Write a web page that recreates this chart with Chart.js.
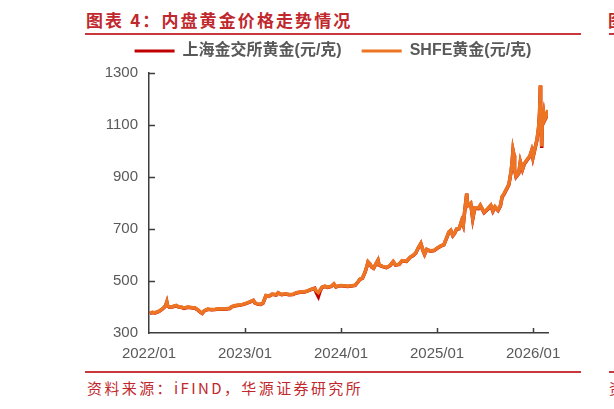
<!DOCTYPE html>
<html>
<head>
<meta charset="utf-8">
<script src="https://cdn.jsdelivr.net/npm/chart.js@4.4.1/dist/chart.umd.min.js"></script>
<style>
  html, body { margin: 0; padding: 0; width: 614px; height: 409px; overflow: hidden; background: #fff; }
  body { position: relative; }
  .ttl { position: absolute; top: 8px; left: 86px; font-family: "Noto Sans CJK SC", sans-serif; font-size: 17px; font-weight: bold; letter-spacing: 2.1px; color: #C0282D; white-space: nowrap; line-height: 24px; }
  .rule { position: absolute; height: 2px; background: #C8383D; }
  .src { position: absolute; top: 378px; left: 87px; font-family: "Noto Sans CJK SC", sans-serif; font-size: 15px; letter-spacing: 2.4px; color: #C0282D; white-space: nowrap; line-height: 20px; }
  #wrap { position: absolute; left: 85px; top: 23px; width: 496px; height: 352px; }
</style>
</head>
<body>
<div class="ttl">图表 4：内盘黄金价格走势情况</div>
<div class="ttl" style="left:608px;">图表 5</div>
<div class="rule" style="left:85px; top:33px; width:496px;"></div>
<div class="rule" style="left:609px; top:33px; width:10px;"></div>
<div class="rule" style="left:85px; top:371px; width:496px;"></div>
<div class="rule" style="left:609px; top:371px; width:10px;"></div>
<div class="src">资料来源：iFIND，华源证券研究所</div>
<div class="src" style="left:609px;">资料</div>
<div id="wrap"><canvas id="c"></canvas></div>
<script>
const seriesNames = ["上海金交所黄金(元/克)", "SHFE黄金(元/克)"];
const dates = [
"2022-01-04","2022-01-14","2022-01-25","2022-02-08","2022-02-18","2022-02-25","2022-03-04","2022-03-08","2022-03-11","2022-03-18",
"2022-03-31","2022-04-13","2022-04-22","2022-05-06","2022-05-13","2022-05-27","2022-06-10","2022-06-24","2022-07-06","2022-07-15",
"2022-07-21","2022-07-29","2022-08-12","2022-08-26","2022-09-09","2022-09-23","2022-10-14","2022-10-28","2022-11-04","2022-11-11",
"2022-11-25","2022-12-09","2022-12-23","2023-01-06","2023-01-19","2023-02-02","2023-02-08","2023-02-17","2023-02-28","2023-03-09",
"2023-03-15","2023-03-20","2023-03-31","2023-04-13","2023-04-28","2023-05-05","2023-05-19","2023-06-02","2023-06-16","2023-06-30",
"2023-07-14","2023-07-28","2023-08-11","2023-08-25","2023-09-08","2023-09-22","2023-09-28","2023-10-06","2023-10-13","2023-10-20",
"2023-10-31","2023-11-10","2023-11-24","2023-12-04","2023-12-12","2023-12-29","2024-01-12","2024-01-26","2024-02-09","2024-02-23",
"2024-03-05","2024-03-12","2024-03-22","2024-04-01","2024-04-08","2024-04-12","2024-04-19","2024-04-26","2024-05-03","2024-05-20",
"2024-05-24","2024-06-07","2024-06-21","2024-07-05","2024-07-17","2024-07-26","2024-08-09","2024-08-20","2024-09-06","2024-09-20",
"2024-09-30","2024-10-11","2024-10-21","2024-10-31","2024-11-08","2024-11-14","2024-11-22","2024-12-06","2024-12-20","2025-01-03",
"2025-01-17","2025-01-27","2025-02-07","2025-02-14","2025-02-21","2025-02-28","2025-03-07","2025-03-14","2025-03-24","2025-03-31",
"2025-04-03","2025-04-09","2025-04-14","2025-04-22","2025-04-25","2025-05-07","2025-05-15","2025-05-23","2025-06-06","2025-06-13",
"2025-06-27","2025-07-11","2025-07-23","2025-07-31","2025-08-08","2025-08-20","2025-08-29","2025-09-05","2025-09-12","2025-09-23",
"2025-09-30","2025-10-09","2025-10-13","2025-10-16","2025-10-20","2025-10-22","2025-10-28","2025-11-07","2025-11-13","2025-11-21",
"2025-11-28","2025-12-05","2025-12-12","2025-12-19","2025-12-26","2025-12-31","2026-01-09","2026-01-16","2026-01-22","2026-01-26",
"2026-01-29","2026-01-30","2026-02-02","2026-02-03","2026-02-05","2026-02-10","2026-02-13","2026-02-18","2026-02-25"
];
const shfe = [
376,380,378,384,392,398,408,420,405,400,
402,406,401,398,396,400,398,396,388,380,
376,386,392,390,391,393,392,394,395,402,
406,408,410,415,420,426,416,412,411,416,
432,444,442,450,447,455,448,451,448,449,
455,458,458,462,468,472,462,455,466,476,
480,476,480,489,478,483,482,480,482,484,
498,507,512,535,558,574,566,554,550,581,
562,556,552,560,575,562,565,578,576,592,
598,608,628,645,618,603,622,616,618,628,
636,640,668,688,695,675,684,700,702,722,
732,715,765,837,790,800,741,782,780,792,
765,778,792,770,786,773,790,825,836,858,
872,925,965,1004,985,930,902,915,960,930,
952,962,972,980,1002,975,1015,1045,1090,1150,
1254,1185,1060,1017,1110,1145,1119,1130,1158
];
const sge = [
375,379,377,383,391,397,407,419,404,399,
401,405,400,398,395,399,397,395,387,379,
375,385,391,389,390,392,391,393,394,401,
405,407,409,414,419,425,415,411,410,415,
431,443,441,449,446,454,447,450,447,448,
454,457,457,461,467,472,456,440,462,475,
479,475,479,488,477,482,481,479,481,483,
497,506,511,534,557,573,565,553,549,580,
561,555,551,559,574,561,564,577,575,591,
597,607,627,644,617,602,621,615,617,627,
635,639,667,687,694,674,683,699,701,721,
731,714,764,836,789,799,738,780,778,790,
763,776,790,768,784,771,788,823,834,856,
870,923,963,1002,983,928,900,913,958,928,
950,960,970,978,1000,973,1013,1043,1088,1148,
1250,1180,1055,1012,1108,1143,1117,1128,1156
];
const yTicks = [300, 500, 700, 900, 1100, 1300];
const xTickLabels = ["2022/01", "2023/01", "2024/01", "2025/01", "2026/01"];

function toX(s) {
  const p = s.split('-').map(Number);
  const dim = new Date(p[0], p[1], 0).getDate();
  return (p[0] - 2022) * 12 + (p[1] - 1) + (p[2] - 1) / dim;
}
const xs = dates.map(toX);
const mk = arr => arr.map((v, i) => ({ x: xs[i], y: v }));

const FONT = '"Liberation Sans", Arial, "Noto Sans CJK SC", sans-serif';
const AXIS = '#3c3c3c';

const innerTicks = {
  id: 'innerTicks',
  afterDraw(chart) {
    const { ctx, chartArea, scales } = chart;
    ctx.save();
    ctx.strokeStyle = AXIS;
    ctx.lineWidth = 1.5;
    scales.y.ticks.forEach(t => {
      if (t.value === scales.y.min) return;
      const py = Math.round(scales.y.getPixelForValue(t.value)) + 0.5;
      ctx.beginPath(); ctx.moveTo(chartArea.left, py); ctx.lineTo(chartArea.left + 6, py); ctx.stroke();
    });
    scales.x.ticks.forEach(t => {
      if (t.value === scales.x.min) return;
      const px = Math.round(scales.x.getPixelForValue(t.value)) + 0.5;
      ctx.beginPath(); ctx.moveTo(px, chartArea.bottom); ctx.lineTo(px, chartArea.bottom - 5); ctx.stroke();
    });
    ctx.restore();
  }
};
const legendHeight = {
  id: 'legendHeight',
  beforeInit(chart) {
    const orig = chart.legend.fit;
    chart.legend.fit = function () { orig.call(this); this.height = 50; };
  }
};

new Chart(document.getElementById('c'), {
  type: 'line',
  data: {
    datasets: [
      { label: seriesNames[0], data: mk(sge), borderColor: '#C00000', backgroundColor: '#C00000', borderWidth: 3.5, pointRadius: 0, tension: 0, order: 2 },
      { label: seriesNames[1], data: mk(shfe), borderColor: '#EC7422', backgroundColor: '#EC7422', borderWidth: 3.5, pointRadius: 0, tension: 0, order: 1 }
    ]
  },
  options: {
    responsive: true,
    maintainAspectRatio: false,
    animation: false,
    layout: { padding: { left: 0, right: 0, top: 0, bottom: 0 } },
    plugins: {
      tooltip: { enabled: false },
      legend: {
        position: 'top',
        labels: {
          boxWidth: 40, boxHeight: 3, padding: 20,
          color: '#595959',
          font: { family: FONT, size: 16, weight: 'bold' },
          sort: (a, b) => a.datasetIndex - b.datasetIndex,
          generateLabels(chart) {
            const items = Chart.defaults.plugins.legend.labels.generateLabels(chart);
            items.forEach(it => { it.lineWidth = 0; it.fillStyle = it.strokeStyle; });
            return items;
          }
        }
      }
    },
    scales: {
      x: {
        type: 'linear',
        min: 0,
        max: xs[xs.length - 1],
        grid: { display: true, drawOnChartArea: false, drawTicks: false },
        border: { display: true, color: AXIS, width: 1.5 },
        ticks: {
          stepSize: 12, includeBounds: false, autoSkip: false, maxRotation: 0,
          padding: 12, color: '#595959', font: { family: FONT, size: 15 },
          callback: v => xTickLabels[Math.round(v / 12)]
        }
      },
      y: {
        min: yTicks[0],
        max: yTicks[yTicks.length - 1],
        afterFit(scale) { scale.width = 64; },
        grid: { display: true, drawOnChartArea: false, drawTicks: false },
        border: { display: true, color: AXIS, width: 1.5 },
        afterBuildTicks(scale) { scale.ticks = yTicks.map(v => ({ value: v })); },
        ticks: { padding: 11, color: '#595959', font: { family: FONT, size: 15 }, callback: v => String(v) }
      },
      yRight: {
        type: 'linear',
        position: 'right',
        display: true,
        min: 0, max: 1,
        afterFit(scale) { scale.width = 33; },
        grid: { display: false, drawTicks: false },
        border: { display: false },
        ticks: { display: false }
      }
    }
  },
  plugins: [innerTicks, legendHeight]
});
</script>
</body>
</html>
